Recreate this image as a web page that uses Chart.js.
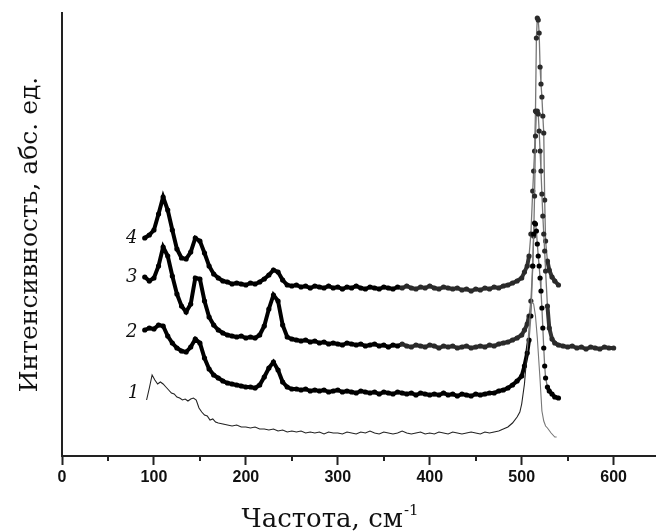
<!DOCTYPE html>
<html><head><meta charset="utf-8">
<script src="https://cdn.jsdelivr.net/npm/chart.js@4"></script>
<style>html,body{margin:0;padding:0;background:#fff}#wrap{width:659px;height:532px}</style>
</head><body><div id="wrap"><canvas id="c" width="659" height="532"></canvas></div>
<script>
// ---- data (frequency in cm^-1, intensity in arbitrary units) ----
const freqMain = [90,95,100,105,110,115,120,125,130,135,140,145,150,155,160,165,170,175,180,185,190,195,200,205,210,215,220,225,230,235,240,245,250,255,260,265,270,275,280,285,290,295,300,305,310,315,320,325,330,335,340,345,350,355,360,365,370,375,380,385,390,395,400,405,410,415,420,425,430,435,440,445,450,455,460,465,470,475,480,485,490,495,500,
  503,506,508,510,512,513,514,515,516,517,518,519,520,521,522,523,524,525,526,528,530,533,536,540];

const curve4 = [218,221,226,242,259,246,226,207,198,197,204,218,215,203,190,182,178,175,174,172,173,172,171,173,172,174,177,181,186,184,176,171,170,171,169,170,168,170,169,168,170,168,169,167,169,168,170,168,167,169,168,167,169,168,167,169,168,170,168,167,169,168,170,168,167,169,168,167,168,166,167,165,167,166,168,167,169,168,170,171,173,175,178,
  184,190,200,222,265,285,305,345,418,438,436,423,389,372,359,340,323,256,215,195,186,179,175,171];

const curve3 = [179,175,178,190,209,200,180,162,150,144,152,178,177,155,139,131,126,123,121,120,119,120,118,119,118,121,130,147,161,155,131,119,117,116,115,116,114,115,113,114,112,113,112,111,113,112,111,112,110,111,112,110,111,109,111,110,112,110,109,111,110,109,111,110,108,110,109,110,108,109,110,108,109,110,109,111,110,112,113,114,116,118,121,
  126,132,140,155,190,220,260,320,344,345,342,325,305,285,262,240,222,205,185,150,128,117,113,111];
const freq3Tail = [545,550,555,560,565,570,575,580,585,590,595,600];
const curve3Tail = [110,109,110,108,109,107,109,108,107,109,108,108];

const curve2 = [126,128,127,131,130,120,113,108,105,104,109,117,113,98,87,81,78,75,73,72,71,70,69,69,68,71,79,88,94,86,74,69,67,67,66,67,65,66,65,66,64,65,66,64,65,64,63,65,64,63,64,62,64,63,62,64,63,62,63,61,63,62,61,62,61,63,61,62,60,62,61,60,62,61,62,63,63,65,66,68,71,75,80,
  90,103,116,140,190,222,233,232,225,212,200,190,178,165,148,128,108,90,78,69,65,62,59,58];

const freq1 = [92,95,98,101,104,107,110,113,116,119,122,125,128,131,134,137,140,143,146,149,152,155,158,161,164,167,170,175,180,185,190,195,200,205,210,215,220,225,230,235,240,245,250,255,260,265,270,275,280,285,290,295,300,305,310,315,320,325,330,335,340,345,350,355,360,365,370,375,380,385,390,395,400,405,410,415,420,425,430,435,440,445,450,455,460,465,470,475,480,485,490,495,498,500,503,506,509,511,513,515,517,519,520,522,524,526,528,532,536,538];
const curve1 = [56,68,81,76,72,74,72,69,66,63,62,59,58,56,57,55,57,58,56,48,44,41,40,36,37,34,33,32,31,30,31,29,29,28,29,27,27,26,27,25,26,24,25,24,25,23,24,23,24,22,24,23,23,22,24,23,22,24,23,25,23,22,24,23,22,23,25,23,22,23,24,22,23,22,24,23,22,24,23,22,23,24,23,22,24,23,24,25,27,29,33,39,44,52,72,105,140,154,152,140,118,90,76,45,35,30,28,23,19,19];

const curveNames = ['1','2','3','4'];
const labelAnchorY = [63,124,179,218];   // intensity level where each curve number sits
const xTickValues = [0,100,200,300,400,500,600];
const xMinorTicks = [50,150,250,350,450,550];
const xTitle = 'Частота, см';
const xTitleSup = '-1';
const yTitle = 'Интенсивность, абс. ед.';

// ---- build ----
const pts = (xs, ys) => xs.map((x,i)=>({x, y:ys[i]}));
const inPeak = c => c.p0.parsed.x >= 508 && c.p1.parsed.x <= 528;
const dotted = (data, fadeFrom) => ({
  data, borderColor:'#000', borderWidth:4, pointRadius:2.6,
  pointBackgroundColor:c=>(c.raw && c.raw.x>=fadeFrom)?'#2a2a2a':'#000',
  pointBorderWidth:0, tension:0,
  segment:{
    borderWidth:c=>inPeak(c)?1.3:4,
    borderColor:c=>inPeak(c)?'#777':(c.p0.parsed.x>=fadeFrom?'#333':'#000')
  }
});

const extrasPlugin = {
  id:'extras',
  afterDatasetsDraw(chart){
    const {ctx, scales:{x,y}} = chart;
    ctx.save();
    // minor ticks
    ctx.strokeStyle='#222'; ctx.lineWidth=2;
    const b = y.getPixelForValue(0);
    xMinorTicks.forEach(v=>{const px=Math.round(x.getPixelForValue(v)); ctx.beginPath(); ctx.moveTo(px,b); ctx.lineTo(px,b+5); ctx.stroke();});
    // curve numbers
    ctx.fillStyle='#111';
    ctx.font='italic 18px "DejaVu Serif"';
    ctx.textAlign='center'; ctx.textBaseline='middle';
    const starts=[freq1[0],freqMain[0],freqMain[0],freqMain[0]];
    curveNames.forEach((n,i)=>{
      ctx.fillText(n, x.getPixelForValue(starts[i]) - 13, y.getPixelForValue(labelAnchorY[i]));
    });
    // x-axis title with superscript
    ctx.font='26px "DejaVu Serif"';
    const w1 = ctx.measureText(xTitle).width;
    ctx.font='15px "DejaVu Serif"';
    const w2 = ctx.measureText(xTitleSup).width;
    const cx = x.getPixelForValue(291);
    const x0 = cx - (w1+w2)/2;
    ctx.textAlign='left'; ctx.textBaseline='alphabetic';
    ctx.font='26px "DejaVu Serif"';
    ctx.fillText(xTitle, x0, 527);
    ctx.font='15px "DejaVu Serif"';
    ctx.fillText(xTitleSup, x0+w1+1, 515);
    ctx.restore();
  }
};

new Chart(document.getElementById('c'), {
  type:'line',
  data:{datasets:[
    {data:pts(freq1,curve1), borderColor:'#222', borderWidth:1.1, pointRadius:0, tension:0,
     segment:{borderColor:c=>c.p0.parsed.x>=506?'#777':'#222'}},
    dotted(pts(freqMain,curve2), 9999),
    dotted(pts(freqMain.concat(freq3Tail),curve3.concat(curve3Tail)), 370),
    dotted(pts(freqMain,curve4), 370)
  ]},
  options:{
    responsive:false, animation:false, events:[],
    layout:{padding:{top:13,left:0,right:0,bottom:0}},
    plugins:{legend:{display:false},tooltip:{enabled:false}},
    scales:{
      x:{type:'linear',min:0,max:645,
        afterBuildTicks:s=>{s.ticks=xTickValues.map(v=>({value:v}));},
        ticks:{font:{family:'Liberation Sans',weight:'bold',size:16},color:'#111',padding:3,maxRotation:0,autoSkip:false},
        grid:{drawOnChartArea:false,drawTicks:true,tickLength:9,tickColor:'#222',tickWidth:2},
        border:{color:'#222',width:2},
        title:{display:false},
        afterFit:s=>{s.height=76;}
      },
      y:{type:'linear',min:0,max:443,
        ticks:{display:false},
        grid:{display:false,drawTicks:false},
        border:{color:'#222',width:2},
        title:{display:true,text:yTitle,font:{family:'DejaVu Serif',size:25},color:'#111',padding:{top:15,bottom:0}},
        afterFit:s=>{s.width=62;}
      }
    }
  },
  plugins:[extrasPlugin]
});
</script></body></html>
